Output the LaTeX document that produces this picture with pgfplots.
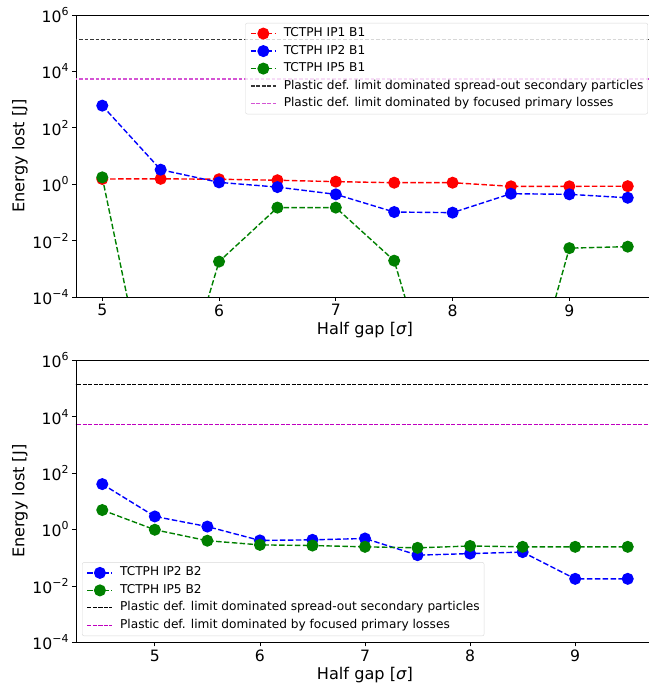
\documentclass[border=0pt]{standalone}
\usepackage{fontspec}
\setmainfont{DejaVu Sans}
\usepackage{pgfplots}
\pgfplotsset{compat=1.18}

\definecolor{mplred}{RGB}{255,0,0}
\definecolor{mplblue}{RGB}{0,0,255}
\definecolor{mplgreen}{RGB}{0,128,0}
\definecolor{mplmag}{RGB}{191,0,191}
\definecolor{softmag}{RGB}{212,84,212}
\definecolor{softblack}{RGB}{55,55,55}

% power-of-ten tick labels in the text font
\newcommand\pw[1]{10\raisebox{0.45em}{\fontsize{11}{11}\selectfont #1}}

\tikzset{
  myser/.style={color=#1, mark=*, mark options={solid, fill=#1}, mark size=5.3bp,
    line width=1.4bp, dash pattern=on 5.5bp off 2.4bp},
  mylim/.style 2 args={color=#1, mark=none, line width=#2, dash pattern=on 3.8bp off 1.7bp},
}

\pgfplotsset{
  every axis/.append style={
    scale only axis, width=578bp, height=282bp,
    ymin=1e-4, ymax=1e6,
    ytick={1e-4,1e-2,1,1e2,1e4,1e6},
    yticklabels={\pw{−4},\pw{−2},\pw{0},\pw{2},\pw{4},\pw{6}},
    xtick={5,6,7,8,9}, xticklabels={5,6,7,8,9},
    yminorticks=false, tick align=outside, xtick pos=bottom, ytick pos=left,
    major tick length=4bp, tick style={black, line width=0.8bp},
    axis line style={line width=0.9bp},
    tick label style={font=\fontsize{15.7}{18}\selectfont},
    label style={font=\fontsize{16.2}{19}\selectfont},
    xlabel style={at={(axis description cs:0.5,-0.116)}, anchor=center},
    ylabel style={at={(axis description cs:-0.097,0.5)}, anchor=center},
    legend cell align=left,
    legend style={font=\fontsize{12.2}{14}\selectfont, draw=black!15, rounded corners=2bp,
      fill=white, fill opacity=0.8, text opacity=1, row sep=1.5bp,
      inner xsep=4.5bp, inner ysep=2.5bp,
      nodes={inner xsep=0bp, inner ysep=2.5bp, text height=8.5bp, text depth=2.5bp},
      /tikz/every odd column/.append style={column sep=7bp}},
  },
}

\begin{document}
\begin{tikzpicture}
  % B1 collimators
  \begin{semilogyaxis}[at={(76bp,391bp)}, anchor=south west,
      xmin=4.775, xmax=9.725,
      xlabel={Half gap [\textit{σ}]}, ylabel={Energy lost [J]},
      legend image code/.code={\draw[fill opacity=1, mark repeat=2, mark phase=2]
        plot coordinates {(0bp,0bp) (12.5bp,0bp) (25bp,0bp)};},
      legend style={at={(axis description cs:0.9896,0.972)}, anchor=north east}]
    \addplot[myser=mplred] coordinates {(5,1.53) (5.5,1.55) (6,1.50) (6.5,1.38) (7,1.23)
      (7.5,1.13) (8,1.13) (8.5,0.84) (9,0.84) (9.5,0.85)};
    \addplot[myser=mplblue] coordinates {(5,610) (5.5,3.27) (6,1.16) (6.5,0.79) (7,0.437)
      (7.5,0.103) (8,0.098) (8.5,0.46) (9,0.437) (9.5,0.33)};
    \addplot[myser=mplgreen] coordinates {(5,1.75) (5.5,2e-10) (6,1.8e-3) (6.5,0.148) (7,0.148)
      (7.5,1.94e-3) (8,2e-10) (8.5,2e-10) (9,5.4e-3) (9.5,6.1e-3)};
    \addplot[mylim={softblack}{1.8bp}] coordinates {(4,1.35e5) (10,1.35e5)};
    \addplot[mylim={softmag}{1.8bp}] coordinates {(4,5.4e3) (10,5.4e3)};
    \legend{TCTPH IP1 B1, TCTPH IP2 B1, TCTPH IP5 B1,
      Plastic def. limit dominated spread-out secondary particles,
      Plastic def. limit dominated by focused primary losses}
  \end{semilogyaxis}
  % B2 collimators
  \begin{semilogyaxis}[at={(76bp,45.7bp)}, anchor=south west,
      xmin=4.25, xmax=9.75,
      xlabel={Half gap [\textit{σ}]}, ylabel={Energy lost [J]},
      legend image code/.code={\draw[fill opacity=1, mark repeat=2, mark phase=2]
        plot coordinates {(0bp,0bp) (12.5bp,0bp) (25bp,0bp)};},
      legend style={at={(axis description cs:0.0104,0.022)}, anchor=south west}]
    \addplot[myser=mplblue] coordinates {(4.5,40.7) (5,2.9) (5.5,1.27) (6,0.41) (6.5,0.43)
      (7,0.48) (7.5,0.123) (8,0.14) (8.5,0.158) (9,0.0178) (9.5,0.0178)};
    \addplot[myser=mplgreen] coordinates {(4.5,4.9) (5,0.98) (5.5,0.40) (6,0.285) (6.5,0.27)
      (7,0.243) (7.5,0.224) (8,0.26) (8.5,0.243) (9,0.243) (9.5,0.243)};
    \addplot[mylim={black}{1bp}] coordinates {(4,1.35e5) (10,1.35e5)};
    \addplot[mylim={mplmag}{1bp}] coordinates {(4,5.4e3) (10,5.4e3)};
    \legend{TCTPH IP2 B2, TCTPH IP5 B2,
      Plastic def. limit dominated spread-out secondary particles,
      Plastic def. limit dominated by focused primary losses}
  \end{semilogyaxis}
  \pgfresetboundingbox
  \useasboundingbox (0,0) rectangle (649bp,688bp);
\end{tikzpicture}
\end{document}
